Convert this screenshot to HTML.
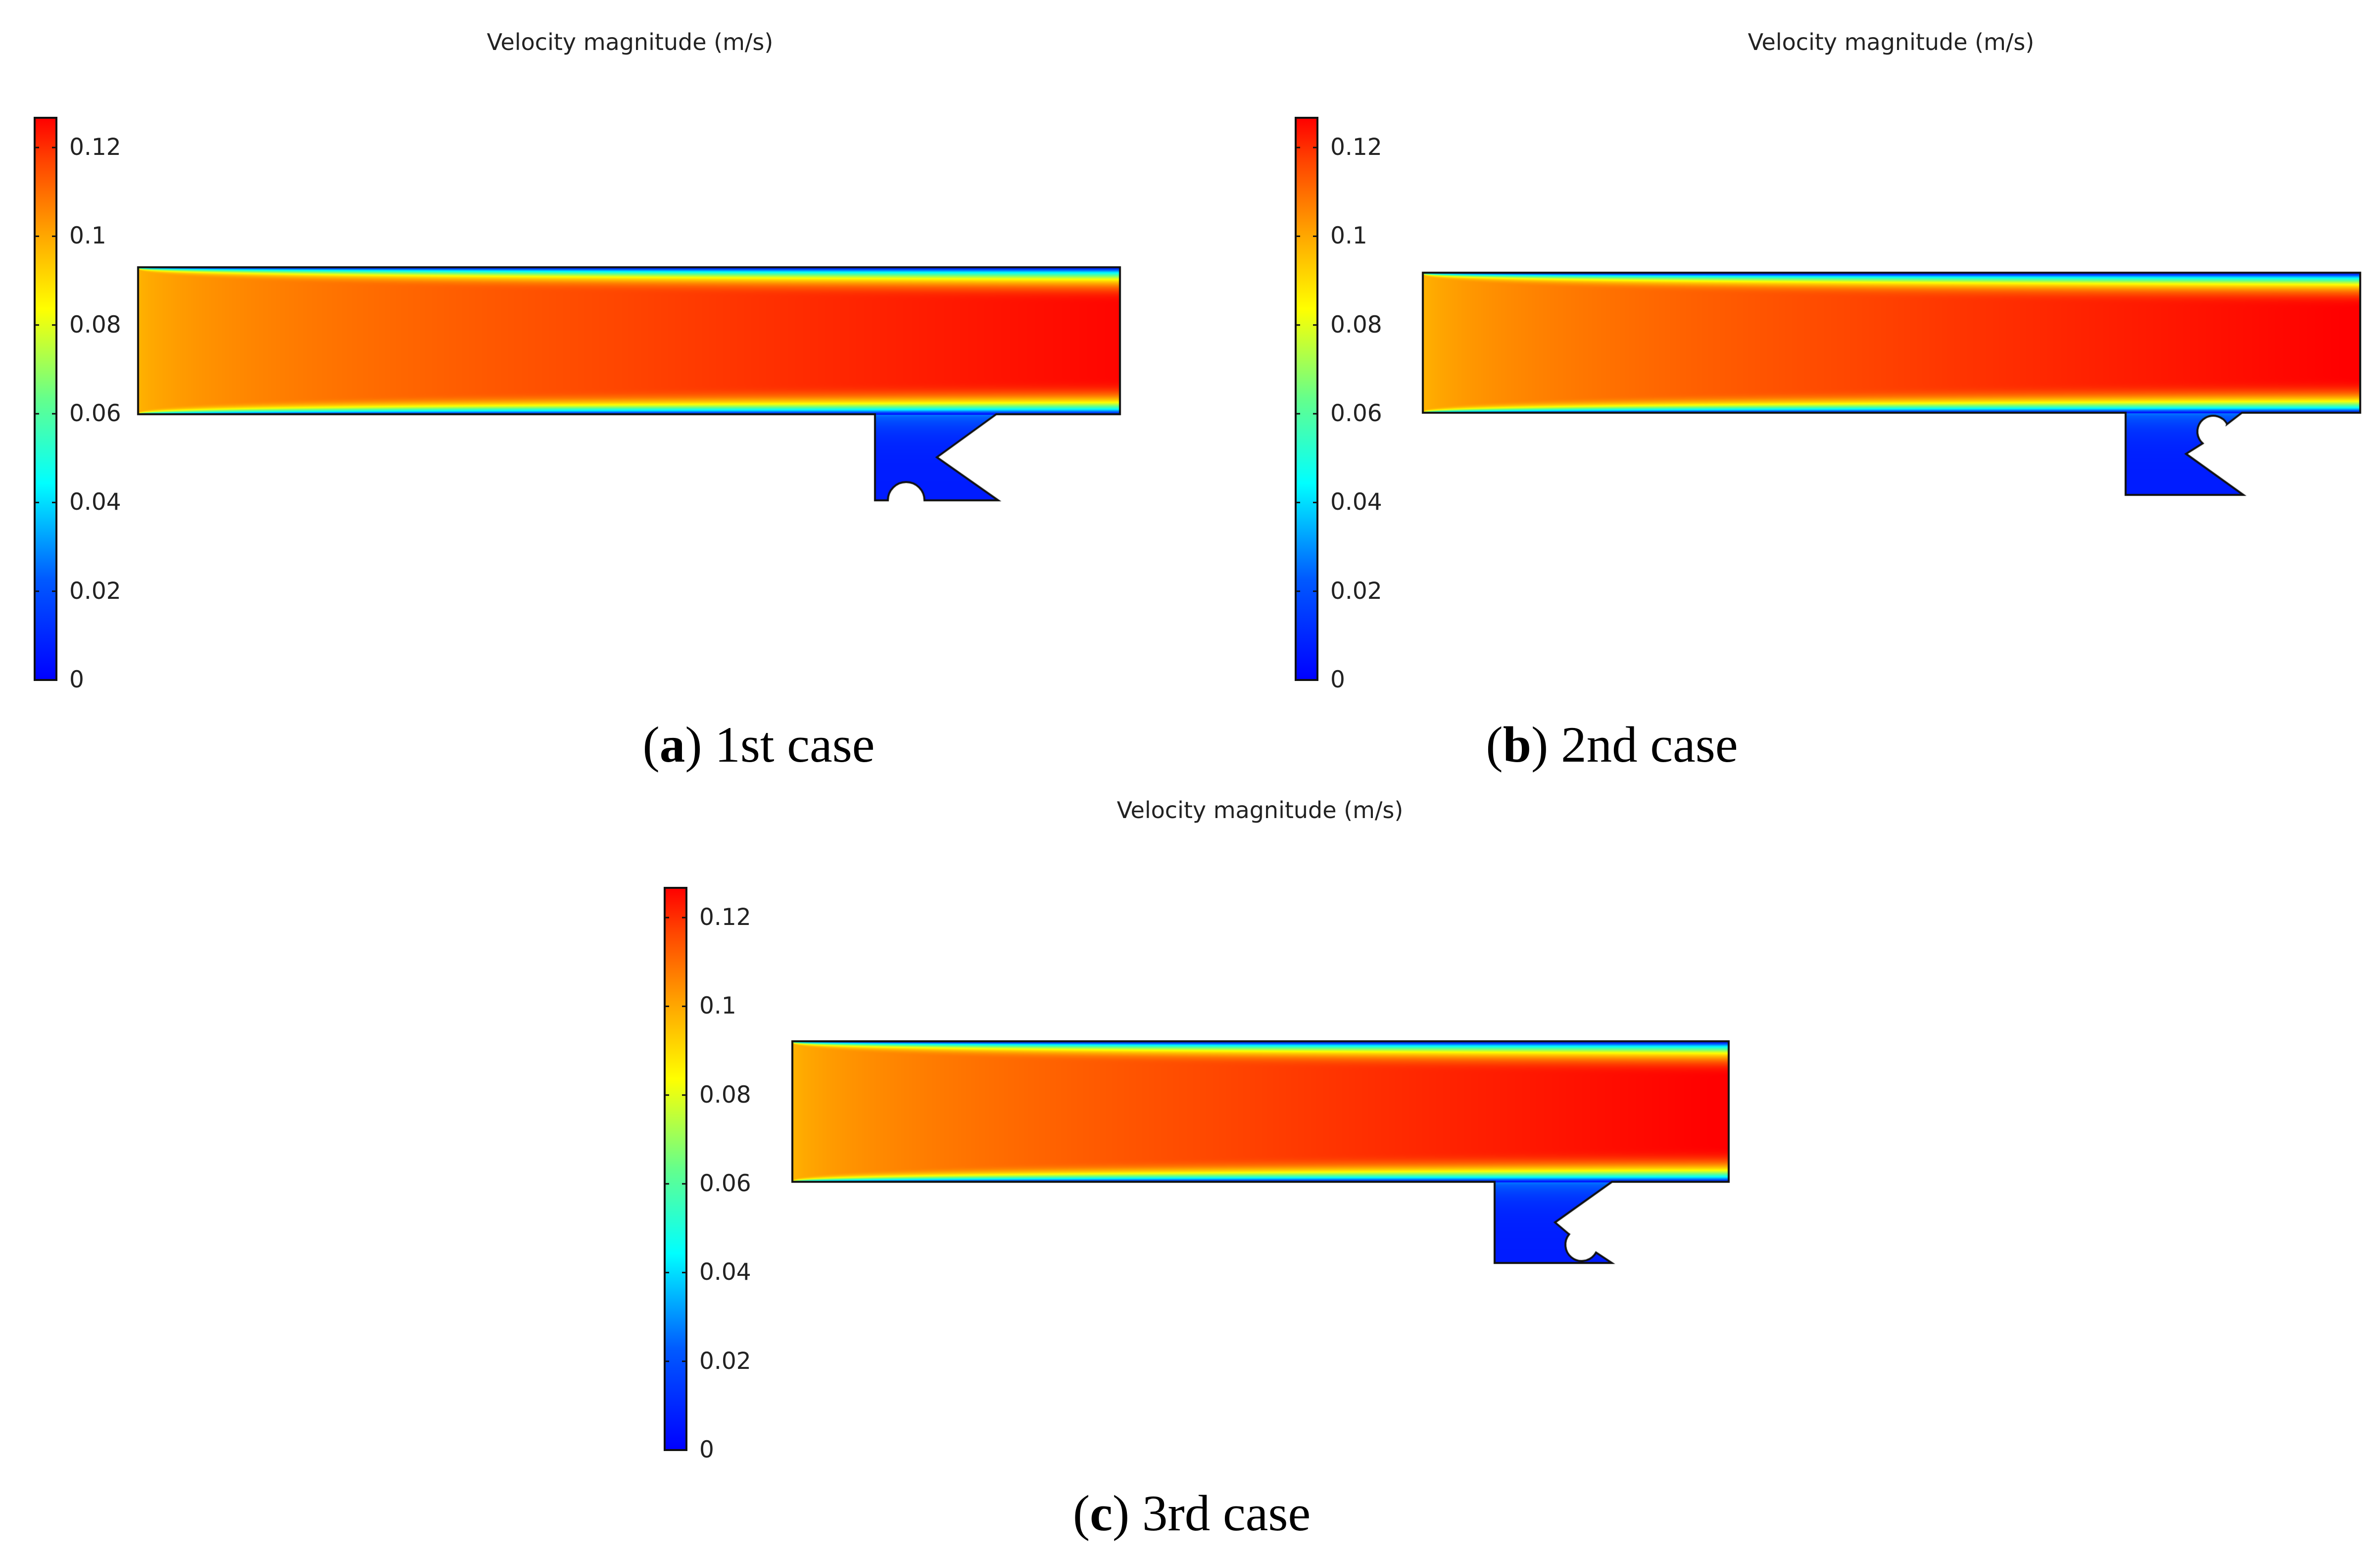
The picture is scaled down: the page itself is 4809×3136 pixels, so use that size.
<!DOCTYPE html>
<html><head><meta charset="utf-8">
<style>
html,body{margin:0;padding:0;background:#fff;}
#root{position:relative;width:4809px;height:3136px;overflow:hidden;background:#fff;}
.title{position:absolute;font-family:"DejaVu Sans","Liberation Sans",sans-serif;font-size:46px;color:#222;white-space:nowrap;transform:translateX(-50%);}
.tick{position:absolute;font-family:"DejaVu Sans","Liberation Sans",sans-serif;font-size:47px;color:#222;white-space:nowrap;}
.cap{position:absolute;font-family:"Liberation Serif",serif;font-size:103px;color:#000;white-space:nowrap;transform:translateX(-50%);}
canvas{position:absolute;}
svg{position:absolute;left:0;top:0;}
</style></head>
<body>
<div id="root">
  <div class="title" style="left:1273px;top:58px;">Velocity magnitude (m/s)</div>
  <div class="title" style="left:3821px;top:58px;">Velocity magnitude (m/s)</div>
  <div class="title" style="left:2546px;top:1610px;">Velocity magnitude (m/s)</div>
  <div class="cap" style="left:1533px;top:1446px;">(<b>a</b>) 1st case</div>
  <div class="cap" style="left:3257px;top:1446px;">(<b>b</b>) 2nd case</div>
  <div class="cap" style="left:2408px;top:2999px;">(<b>c</b>) 3rd case</div>
  <svg id="bars" width="4809" height="3136"></svg>
</div>
<script>
// colour-bar data
const tickValues = [0, 0.02, 0.04, 0.06, 0.08, 0.1, 0.12];
const tickLabels = ["0", "0.02", "0.04", "0.06", "0.08", "0.1", "0.12"];
const rangeMin = [0];
const rangeMax = [0.1267];
// field data per case (a, b, c)
const caseNames = ["a", "b", "c"];
const inletSpeed = [0.097, 0.097, 0.097];
const outletSpeed = [0.126, 0.127, 0.127];
const blInlet = [0.015, 0.015, 0.015];
const blOutlet = [0.27, 0.28, 0.28];
const cavitySpeed = [0.007, 0.007, 0.007];

const jetStops = [[0,[0,0,255]],[0.18,[0,90,255]],[0.35,[0,255,255]],[0.5,[100,255,140]],[0.66,[255,255,0]],[0.8,[255,160,0]],[0.92,[255,70,0]],[1,[255,0,0]]];
function jet(t){
  t=Math.max(0,Math.min(1,t));
  for(let i=1;i<jetStops.length;i++){
    if(t<=jetStops[i][0]){
      const a=jetStops[i-1],b=jetStops[i];const f=(t-a[0])/(b[0]-a[0]);
      return [a[1][0]+(b[1][0]-a[1][0])*f,a[1][1]+(b[1][1]-a[1][1])*f,a[1][2]+(b[1][2]-a[1][2])*f];
    }
  }
  return jetStops[jetStops.length-1][1];
}
function vScale(v){return (v-rangeMin[0])/(rangeMax[0]-rangeMin[0]);}

const NS="http://www.w3.org/2000/svg";
const svg=document.getElementById('bars');
const root=document.getElementById('root');
const defs=document.createElementNS(NS,'defs');
const lg=document.createElementNS(NS,'linearGradient');
lg.setAttribute('id','jetg');lg.setAttribute('x1','0');lg.setAttribute('y1','1');lg.setAttribute('x2','0');lg.setAttribute('y2','0');
jetStops.forEach(s=>{const st=document.createElementNS(NS,'stop');st.setAttribute('offset',s[0]);st.setAttribute('stop-color','rgb('+s[1].map(Math.round).join(',')+')');lg.appendChild(st);});
defs.appendChild(lg);svg.appendChild(defs);

const barPos=[{x:70,y:238,name:'a'},{x:2618,y:238,name:'b'},{x:1343,y:1794,name:'c'}];
const barW=44, barH=1136;
barPos.forEach(bp=>{
  const yOf=v=>bp.y+barH-vScale(v)*barH;
  const r=document.createElementNS(NS,'rect');
  r.setAttribute('x',bp.x);r.setAttribute('y',bp.y);r.setAttribute('width',barW);r.setAttribute('height',barH);
  r.setAttribute('fill','url(#jetg)');r.setAttribute('stroke','#111');r.setAttribute('stroke-width','4');
  
  
  svg.appendChild(r);
  tickValues.forEach((v,i)=>{
    const y=yOf(v);
    if(i>0){
      [[bp.x,bp.x+9],[bp.x+barW-9,bp.x+barW]].forEach(p=>{
        const l=document.createElementNS(NS,'line');
        l.setAttribute('x1',p[0]);l.setAttribute('x2',p[1]);l.setAttribute('y1',y);l.setAttribute('y2',y);
        l.setAttribute('stroke','#111');l.setAttribute('stroke-width','3');
        
        
        svg.appendChild(l);
      });
    }
    const d=document.createElement('div');
    d.className='tick';d.textContent=tickLabels[i];
    d.style.left=(bp.x+barW+26)+'px';d.style.top=(y-28)+'px';
    
    
    root.appendChild(d);
  });
});

const geoms=[
 {ch:[279,540,2263,837], box:[279,540,2263,1015], cav:function(c){
   c.lineTo(2013,837);c.lineTo(1893,924);c.lineTo(2017,1011);c.lineTo(1868,1011);
   c.arc(1831,1011,37,0,Math.PI,true);c.lineTo(1768,1011);c.lineTo(1768,837);}},
 {ch:[2875,551,4769,834], box:[2875,551,4769,1004], cav:function(c){
   c.lineTo(4530,834);c.lineTo(4500,857);c.arc(4472,872,32,-0.5,2.3,true);
   c.lineTo(4417,917);c.lineTo(4533,1000);c.lineTo(4295,1000);c.lineTo(4295,834);}},
 {ch:[1601,2104,3493,2388], box:[1601,2104,3493,2556], cav:function(c){
   c.lineTo(3257,2388);c.lineTo(3142,2470);c.lineTo(3168,2492);c.arc(3196,2515,33,-2.45,0.5,true);
   c.lineTo(3257,2552);c.lineTo(3020,2552);c.lineTo(3020,2388);}}
];

geoms.forEach((g,k)=>{
  const [x0,y0,x1,y1]=g.ch; const [bx0,by0,bx1,by1]=g.box;
  const W=bx1-bx0+6,H=by1-by0+6;
  const off=document.createElement('canvas');off.width=W;off.height=H;
  const oc=off.getContext('2d');const img=oc.createImageData(W,H);const D=img.data;
  const L=x1-x0,Hc=y1-y0;
  for(let py=0;py<H;py++){
    const Y=by0-3+py;
    for(let px=0;px<W;px++){
      const X=bx0-3+px;
      let u;
      const xf=Math.max(0,Math.min(1,(X-x0)/L));
      if(Y<=y1){
        const dist=Math.max(0,Math.min(Y-y0,y1-Y))/Hc;
        const Uc=inletSpeed[k]+(outletSpeed[k]-inletSpeed[k])*Math.pow(xf,0.55);
        const del=blInlet[k]+(blOutlet[k]-blInlet[k])*Math.sqrt(xf);
        const s=dist/del;
        const gg=s>=1?1:1-Math.pow(1-s,3);
        u=Uc*gg;
      } else {
        const d=Y-y1;
        u=cavitySpeed[k]+0.02*Math.exp(-d/30);
      }
      const c=jet(vScale(u));const o=(py*W+px)*4;
      D[o]=c[0];D[o+1]=c[1];D[o+2]=c[2];D[o+3]=255;
    }
  }
  oc.putImageData(img,0,0);
  const cv=document.createElement('canvas');
  cv.width=4809;cv.height=by1+10;cv.style.left='0px';cv.style.top='0px';
  
  
  root.appendChild(cv);
  const c=cv.getContext('2d');
  c.beginPath();c.moveTo(x0,y0);c.lineTo(x1,y0);c.lineTo(x1,y1);
  g.cav(c);c.lineTo(x0,y1);c.closePath();
  c.save();c.clip();c.drawImage(off,bx0-3,by0-3);c.restore();
  c.lineWidth=4;c.strokeStyle='#111';c.lineJoin='miter';c.stroke();
});
</script>
</body></html>
